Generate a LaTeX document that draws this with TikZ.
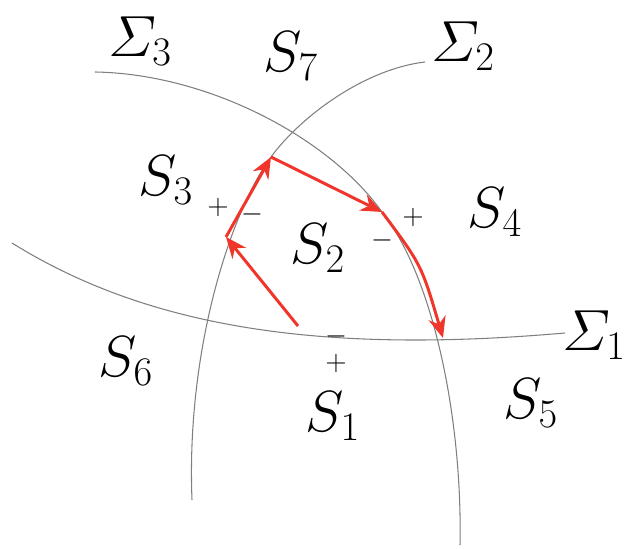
\RequirePackage{fix-cm}
\documentclass[tikz,border=0pt]{standalone}
\usepackage{amsmath}
\usepackage{tikz}
\usetikzlibrary{arrows.meta}
\definecolor{Curve}{HTML}{7F7F7F}
\definecolor{Flow}{HTML}{F0362B}

\begin{document}
\begin{tikzpicture}[every node/.style={font=\fontsize{33}{38}\selectfont},
    surf/.style={Curve, line width=0.6pt},
    flow/.style={Flow, line width=1.7pt, -{Stealth[length=12pt, width=10pt]}},
    sign/.style={font=\fontsize{16}{18}\selectfont, inner sep=0pt}]
  \useasboundingbox (0,0) rectangle (12.5,10.98);
  % the three surfaces
  \draw[surf] (1.9,9.54) .. controls (4.2,9.5) and (6.6,8.2) .. (7.64,6.74)
    .. controls (8.7,5.4) and (9.25,2.5) .. (9.2,0.08);
  \draw[surf] (8.5,9.74) .. controls (7.3,9.6) and (6.02,8.66) .. (5.42,7.84)
    .. controls (4.62,6.75) and (3.72,4.0) .. (3.84,0.98);
  \draw[surf] (0.24,6.12) .. controls (3.0,4.4) and (6.5,3.9) .. (11.3,4.32);
  % surface and region labels
  \node (sig3) at (2.8,10.16) {$\varSigma_3$};
  \node (sig2) at (9.26,10.06) {$\varSigma_2$};
  \node (sig1) at (11.88,4.28) {$\varSigma_1$};
  \node (s7) at (5.82,9.86) {$S_7$};
  \node (s3) at (3.32,7.38) {$S_3$};
  \node (s2) at (6.36,6.02) {$S_2$};
  \node (s4) at (9.9,6.74) {$S_4$};
  \node (s6) at (2.52,3.76) {$S_6$};
  \node (s1) at (6.66,2.66) {$S_1$};
  \node (s5) at (10.62,2.92) {$S_5$};
  % sides
  \node[sign] (pl3) at (4.36,6.84) {$+$};
  \node[sign] (mi3) at (5.04,6.7) {$-$};
  \node[sign] (mi4) at (7.64,6.18) {$-$};
  \node[sign] (pl4) at (8.26,6.64) {$+$};
  \node[sign] (mi1) at (6.72,4.26) {$-$};
  \node[sign] (pl1) at (6.72,3.72) {$+$};
  % path
  \coordinate (p0) at (5.96,4.46);
  \coordinate (p1) at (4.52,6.24);
  \coordinate (p2) at (5.42,7.84);
  \coordinate (p3) at (7.64,6.74);
  \coordinate (p4) at (8.86,4.22);
  \draw[flow] (p0) -- (p1);
  \draw[flow] (p1) -- (p2);
  \draw[flow] (p2) -- (p3);
  \draw[flow] (p3) .. controls (8.43,5.68) .. (p4);
\end{tikzpicture}
\end{document}
